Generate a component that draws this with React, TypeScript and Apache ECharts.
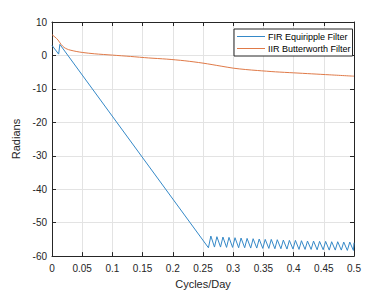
import React, { useEffect, useRef } from "react";
import * as echarts from "echarts";

const seriesNames = ["FIR Equiripple Filter", "IIR Butterworth Filter"];

const firX = [
  0, 0.011, 0.013, 0.259,
  0.263, 0.269, 0.273, 0.279, 0.283, 0.289, 0.293, 0.299, 0.303, 0.309,
  0.313, 0.319, 0.323, 0.329, 0.333, 0.339, 0.343, 0.349, 0.353, 0.359,
  0.363, 0.369, 0.373, 0.379, 0.383, 0.389, 0.393, 0.399, 0.403, 0.409,
  0.413, 0.419, 0.423, 0.429, 0.433, 0.439, 0.443, 0.449, 0.453, 0.459,
  0.463, 0.469, 0.473, 0.479, 0.483, 0.489, 0.493, 0.499, 0.5,
];
const firY = [
  3.0, 0.4, 3.3, -57.5,
  -54.0, -57.3, -54.2, -57.3, -54.3, -57.4, -54.4, -57.4, -54.5, -57.5,
  -54.6, -57.5, -54.7, -57.6, -54.8, -57.6, -54.9, -57.7, -55.0, -57.7,
  -55.0, -57.8, -55.1, -57.8, -55.2, -57.9, -55.3, -57.9, -55.3, -58.0,
  -55.4, -58.0, -55.5, -58.0, -55.5, -58.1, -55.6, -58.1, -55.6, -58.2,
  -55.7, -58.2, -55.7, -58.2, -55.8, -58.3, -55.8, -58.3, -56.0,
];

const iirX = [
  0, 0.005, 0.01, 0.015, 0.02, 0.025, 0.03, 0.04, 0.05, 0.07, 0.1, 0.13,
  0.16, 0.19, 0.22, 0.25, 0.28, 0.3, 0.32, 0.34, 0.37, 0.4, 0.43, 0.46, 0.5,
];
const iirY = [
  6.2, 5.5, 4.6, 3.3, 2.4, 1.9, 1.6, 1.2, 0.9, 0.5, 0.1, -0.3,
  -0.75, -1.1, -1.6, -2.3, -3.2, -3.8, -4.2, -4.5, -4.9, -5.2, -5.5, -5.8, -6.2,
];

const xMin = 0, xMax = 0.5, xStep = 0.05;
const yMin = -60, yMax = 10, yStep = 10;

const colors = ["#3589c8", "#e07a48"];
const axisColor = "#262626";
const font = "'Liberation Sans', Arial, Helvetica, sans-serif";

export default function App() {
  const ref = useRef<HTMLDivElement>(null);
  useEffect(() => {
    const chart = echarts.init(ref.current!, null, { renderer: "svg" });
    const fir = firX.map((x, i) => [x, firY[i]]);
    const iir = iirX.map((x, i) => [x, iirY[i]]);
    const baseX = {
      type: "value",
      min: xMin,
      max: xMax,
      interval: xStep,
      axisLine: { show: true, onZero: false, lineStyle: { color: axisColor, width: 1 } },
      axisTick: { show: true, inside: true, length: 4, lineStyle: { color: axisColor } },
    };
    const baseY = {
      type: "value",
      min: yMin,
      max: yMax,
      interval: yStep,
      axisLine: { show: true, onZero: false, lineStyle: { color: axisColor, width: 1 } },
      axisTick: { show: true, inside: true, length: 4, lineStyle: { color: axisColor } },
    };
    chart.setOption({
      animation: false,
      color: colors,
      grid: { left: 52, right: 38, top: 22, bottom: 33, containLabel: false },
      legend: {
        orient: "vertical",
        left: 234,
        top: 29,
        padding: [3, 2, 3, 3],
        itemGap: 3,
        itemWidth: 28,
        itemHeight: 1,
        icon: "rect",
        backgroundColor: "#ffffff",
        borderColor: axisColor,
        borderWidth: 1,
        textStyle: { fontFamily: font, fontSize: 9, color: "#000000", padding: [0, 0, 0, -2] },
        data: seriesNames,
      },
      xAxis: [
        {
          ...baseX,
          position: "bottom",
          name: "Cycles/Day",
          nameLocation: "middle",
          nameGap: 17,
          nameTextStyle: { fontFamily: font, fontSize: 11, color: axisColor },
          axisLabel: {
            fontFamily: font,
            fontSize: 10,
            color: axisColor,
            margin: 7,
            formatter: (v: number) => String(Math.round(v * 100) / 100),
          },
          splitLine: { show: true, lineStyle: { color: "#e3e3e3", width: 1 } },
        },
        {
          ...baseX,
          position: "top",
          axisLabel: { show: false },
          splitLine: { show: false },
        },
      ],
      yAxis: [
        {
          ...baseY,
          position: "left",
          name: "Radians",
          nameLocation: "middle",
          nameGap: 18,
          nameTextStyle: { fontFamily: font, fontSize: 11, color: axisColor },
          axisLabel: { fontFamily: font, fontSize: 10, color: axisColor, margin: 5 },
          splitLine: { show: true, lineStyle: { color: "#e3e3e3", width: 1 } },
        },
        {
          ...baseY,
          position: "right",
          axisLabel: { show: false },
          splitLine: { show: false },
        },
      ],
      series: [
        {
          name: seriesNames[0],
          type: "line",
          data: fir,
          showSymbol: false,
          symbol: "none",
          lineStyle: { width: 1, color: colors[0] },
          itemStyle: { color: colors[0] },
        },
        {
          name: seriesNames[1],
          type: "line",
          data: iir,
          smooth: 0.3,
          showSymbol: false,
          symbol: "none",
          lineStyle: { width: 1, color: colors[1] },
          itemStyle: { color: colors[1] },
        },
      ],
    });
    return () => chart.dispose();
  }, []);
  return <div ref={ref} style={{ width: 392, height: 294, position: "absolute", left: 0, top: 0, background: "#fff" }} />;
}
